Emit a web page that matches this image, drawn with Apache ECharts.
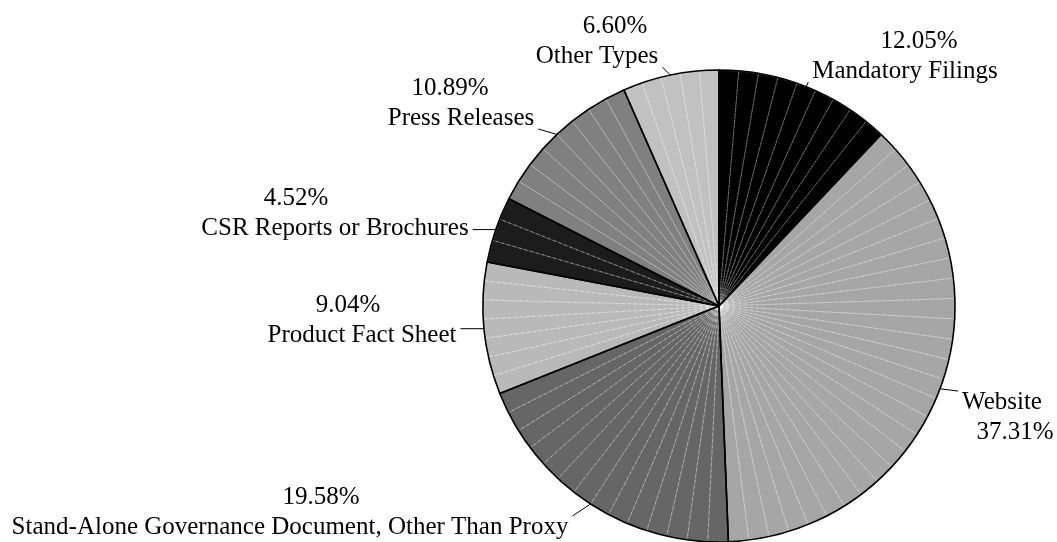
<!DOCTYPE html>
<html>
<head>
<meta charset="utf-8">
<script src="https://cdn.jsdelivr.net/npm/echarts@6/dist/echarts.min.js"></script>
<style>
  html, body { margin: 0; padding: 0; background: #ffffff; }
  #chart { width: 1057px; height: 542px; }
</style>
</head>
<body>
<div id="chart"></div>
<script>
// Disclosure channels and their share of the total (percent)
const categories = [
  'Mandatory Filings',
  'Website',
  'Stand-Alone Governance Document, Other Than Proxy',
  'Product Fact Sheet',
  'CSR Reports or Brochures',
  'Press Releases',
  'Other Types'
];
const shares = [12.05, 37.31, 19.58, 9.04, 4.52, 10.89, 6.60];

// Grey-scale fills, one per slice
const sliceColors = ['#000000', '#a6a6a6', '#666666', '#b9b9b9', '#1c1c1c', '#808080', '#c1c1c1'];

// Where each label block sits (pixel centre), how far the percent line is
// shifted relative to the name line, and whether the name comes first
const labelPlacement = [
  { x: 905,  y: 56,  pctShift: 14,  nameFirst: false },
  { x: 1002, y: 417, pctShift: 13,  nameFirst: true  },
  { x: 290,  y: 512, pctShift: 31,  nameFirst: false },
  { x: 362,  y: 320, pctShift: -14, nameFirst: false },
  { x: 335,  y: 213, pctShift: -39, nameFirst: false },
  { x: 461,  y: 103, pctShift: -11, nameFirst: false },
  { x: 597,  y: 41,  pctShift: 18,  nameFirst: false }
];

const CENTER = [719, 306];
const RADIUS = 236;
const START_ANGLE = 90;
const FONT_SIZE = 25;
const LINE_H = 30;
const FONT = '"Liberation Serif", "Times New Roman", Times, serif';

// Base slices
const baseData = categories.map((name, i) => ({
  name: name,
  value: shares[i],
  itemStyle: { color: sliceColors[i] }
}));

// Each slice split into thin wedges (about 5 degrees each) for the faint radial hatching
const wedgeData = [];
shares.forEach((v, i) => {
  const deg = v / 100 * 360;
  const n = Math.max(1, Math.round(deg / 5));
  for (let k = 0; k < n; k++) {
    wedgeData.push({ name: categories[i] + ' ' + k, value: v / n });
  }
});

function pctText(v) { return v.toFixed(2) + '%'; }

// Text width of a label line, for anchoring the leader lines
const measureCtx = document.createElement('canvas').getContext('2d');
measureCtx.font = FONT_SIZE + 'px ' + FONT;
function textWidth(s) { return measureCtx.measureText(s).width; }

// Point on the rim at the middle of slice i
const total = shares.reduce((a, b) => a + b, 0);
function rimMidPoint(i) {
  let before = 0;
  for (let k = 0; k < i; k++) before += shares[k];
  const frac = (before + shares[i] / 2) / total;
  const ang = (START_ANGLE - frac * 360) * Math.PI / 180;
  return [CENTER[0] + RADIUS * Math.cos(ang), CENTER[1] - RADIUS * Math.sin(ang)];
}

// Leader line: from the rim to the nearest point of the name line's box
function leaderPoints(i) {
  const p = labelPlacement[i];
  const start = rimMidPoint(i);
  const halfW = textWidth(categories[i]) / 2 + 4;
  const cy = p.nameFirst ? p.y - LINE_H / 2 : p.y + LINE_H / 2;
  const halfH = 11;
  const ex = Math.min(Math.max(start[0], p.x - halfW), p.x + halfW);
  const ey = Math.min(Math.max(start[1], cy - halfH), cy + halfH);
  return [start, [ex, ey]];
}

const rich = {};
labelPlacement.forEach((p, i) => {
  const s = p.pctShift;
  rich['p' + i] = {
    fontFamily: FONT, fontSize: FONT_SIZE, lineHeight: LINE_H, color: '#000',
    padding: s >= 0 ? [0, 0, 0, 2 * s] : [0, -2 * s, 0, 0]
  };
});
rich.n = { fontFamily: FONT, fontSize: FONT_SIZE, lineHeight: LINE_H, color: '#000' };

const chart = echarts.init(document.getElementById('chart'), null, { renderer: 'canvas' });

chart.setOption({
  backgroundColor: '#ffffff',
  animation: false,
  series: [
    {
      // filled slices
      type: 'pie',
      z: 1,
      silent: true,
      center: CENTER,
      radius: RADIUS,
      startAngle: START_ANGLE,
      clockwise: true,
      avoidLabelOverlap: false,
      label: { show: false },
      labelLine: { show: false },
      itemStyle: { borderWidth: 0 },
      data: baseData
    },
    {
      // faint radial hatching inside the slices
      type: 'pie',
      z: 2,
      silent: true,
      center: CENTER,
      radius: RADIUS - 0.5,
      startAngle: START_ANGLE,
      clockwise: true,
      avoidLabelOverlap: false,
      label: { show: false },
      labelLine: { show: false },
      itemStyle: {
        color: 'rgba(0,0,0,0)',
        borderColor: 'rgba(255,255,255,0.45)',
        borderWidth: 0.7,
        borderType: [4, 2]
      },
      data: wedgeData
    },
    {
      // slice outlines and labels
      type: 'pie',
      z: 3,
      silent: true,
      center: CENTER,
      radius: RADIUS,
      startAngle: START_ANGLE,
      clockwise: true,
      avoidLabelOverlap: false,
      itemStyle: {
        color: 'rgba(0,0,0,0)',
        borderColor: '#000000',
        borderWidth: 1.6
      },
      label: {
        show: true,
        position: 'outside',
        color: '#000',
        fontFamily: FONT,
        fontSize: FONT_SIZE,
        lineHeight: LINE_H,
        formatter: function (params) {
          const i = params.dataIndex;
          const p = '{p' + i + '|' + pctText(shares[i]) + '}';
          const n = '{n|' + categories[i] + '}';
          return labelPlacement[i].nameFirst ? n + '\n' + p : p + '\n' + n;
        },
        rich: rich
      },
      labelLine: {
        show: true,
        length: 10,
        length2: 4,
        lineStyle: { color: '#000', width: 1 }
      },
      labelLayout: function (params) {
        const i = params.dataIndex;
        const p = labelPlacement[i];
        return {
          x: p.x, y: p.y, align: 'center', verticalAlign: 'middle',
          labelLinePoints: leaderPoints(i)
        };
      },
      data: baseData.map(d => ({ name: d.name, value: d.value }))
    }
  ]
});
</script>
</body>
</html>
